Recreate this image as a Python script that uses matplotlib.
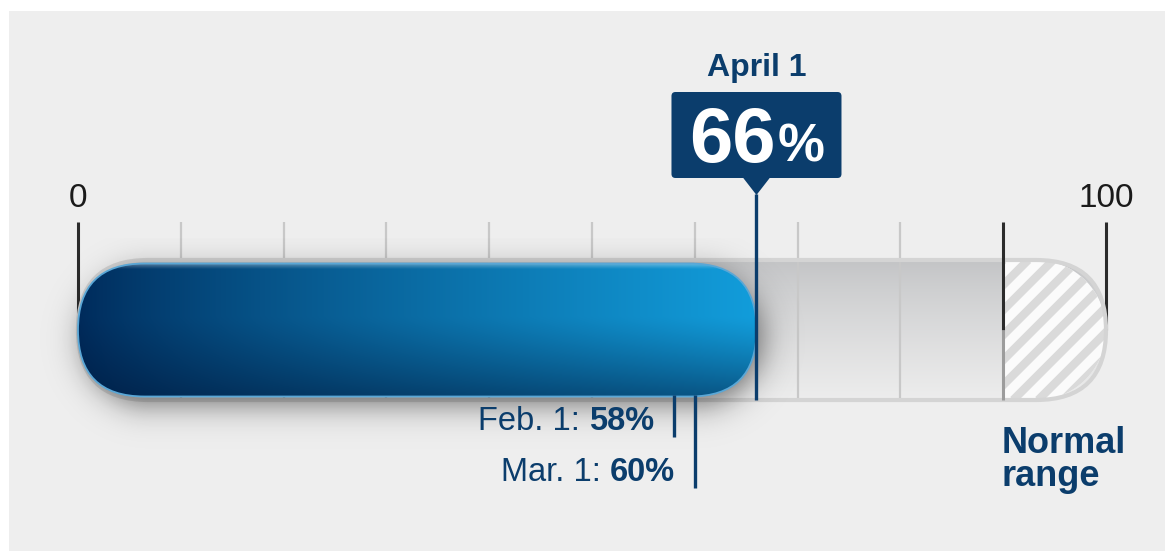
import numpy as np
import matplotlib
matplotlib.use("Agg")
import matplotlib.pyplot as plt
from matplotlib.patches import FancyBboxPatch, Rectangle, Polygon
from matplotlib.colors import to_rgb

# reservoir storage, percent of capacity
current_label = "April 1"
current_value = 66
history_labels = ["Feb. 1:", "Mar. 1:"]
history_values = [58, 60]
scale_min, scale_max = 0, 100
tick_values = list(range(0, 101, 10))
normal_range_start = 90
normal_range_label = "Normal\nrange"

NAVY = "#0b3d6c"
S = 10.28          # pixels per percent
PX = 1 / S         # one pixel in data units

plt.rcParams["font.family"] = ["Liberation Sans", "DejaVu Sans"]

fig = plt.figure(figsize=(11.65, 5.51), dpi=100)
fig.patch.set_facecolor("white")
fig.patches.append(Rectangle((9 / 1165, 0), 1, 1 - 11 / 551, transform=fig.transFigure,
                             facecolor="#eeeeee", edgecolor="none", zorder=-10))
ax = fig.add_axes([0, 0, 1, 1])
ax.set_xlim(-78 * PX, (1165 - 78) * PX)
ax.set_ylim(-(551 - 330) * PX, 330 * PX)
ax.axis("off")

TH = 70 * PX     # track half height
BH = 66.5 * PX   # bar half height


def capsule(x0, x1, h, **kw):
    return FancyBboxPatch((x0, -h), x1 - x0, 2 * h,
                          boxstyle="round,pad=0,rounding_size=%f" % h,
                          transform=ax.transData, **kw)


# track fill (vertical gradient)
track_clip = capsule(scale_min, scale_max, TH, facecolor="none", edgecolor="none")
g = np.linspace(0, 1, 256)[:, None]
top, bot = np.array(to_rgb("#c2c3c5")), np.array(to_rgb("#ededed"))
grad = top + (bot - top) * g[..., None] ** 0.8
grad = np.repeat(grad, 2, axis=1)
im = ax.imshow(grad, extent=(scale_min, scale_max, -TH, TH), aspect="auto", zorder=1.2)
im.set_clip_path(track_clip)

# normal range hatch area
ang = np.linspace(np.pi / 2, -np.pi / 2, 60)
cx = scale_max - TH
pts = [(normal_range_start, TH)] + [(cx + TH * np.cos(a), TH * np.sin(a)) for a in ang] \
      + [(normal_range_start, -TH)]
hatch_area = Polygon(pts, closed=True, facecolor="#fbfbfb", edgecolor="none", zorder=1.5)
ax.add_patch(hatch_area)
for x0 in np.arange(normal_range_start - 2 * TH, scale_max + 2, 25 * PX):
    ln, = ax.plot([x0, x0 + 2 * TH], [-TH, TH], color="#dadada", lw=6, zorder=1.6,
                  solid_capstyle="butt")
    ln.set_clip_path(hatch_area)

# track outline
ax.add_patch(capsule(scale_min, scale_max, TH, facecolor="none", edgecolor="#d4d4d4",
                     lw=3.0, zorder=2.8))

# ticks
tick_top = 108 * PX
for v in tick_values:
    if v in (scale_min, scale_max):
        ax.plot([v, v], [tick_top, 0], color="#2b2b2b", lw=2.2, zorder=1.0,
                solid_capstyle="butt")
    elif v == normal_range_start:
        ax.plot([v, v], [tick_top, 0], color="#2b2b2b", lw=2.2, zorder=2.9,
                solid_capstyle="butt")
        ax.plot([v, v], [0, -TH], color="#9c9c9c", lw=2.2, zorder=2.9,
                solid_capstyle="butt")
    else:
        ax.plot([v, v], [tick_top, -TH], color="#c8c8c8", lw=1.6, zorder=2.5,
                solid_capstyle="butt")

# soft shadow under the bar
xs = np.arange(-4, current_value + 6, 0.1)
ys = np.arange(-14, 9, 0.1)
X, Y = np.meshgrid(xs, ys)
dx, dy = 5 * PX, -9 * PX
a0, a1 = BH + dx, current_value - BH + dx
px_ = np.clip(X, a0, a1)
d = np.hypot(X - px_, Y - dy) - BH
alpha = 0.5 / (1 + np.exp(d / (9 * PX)))
shadow = np.zeros(X.shape + (4,))
shadow[..., 3] = alpha
ax.imshow(shadow, extent=(xs[0], xs[-1], ys[0], ys[-1]), origin="lower",
          aspect="auto", zorder=3)

# the blue bar
cols, rows = 400, 120
t = np.linspace(0, 1, cols)[None, :, None] ** 0.8
v = np.linspace(0, 1, rows)[:, None, None]
left, right = np.array(to_rgb("#002a5a")), np.array(to_rgb("#129ddb"))
deep = np.array(to_rgb("#001436"))
base = left + (right - left) * t
k = 0.5 * np.clip((v - 0.4) / 0.6, 0, 1) ** 1.2
bar_img = base * (1 - k) + deep * k
hl = np.clip(1 - v / 0.04, 0, 1) * 0.35
bar_img = bar_img * (1 - hl) + hl
bar_clip = capsule(scale_min, current_value, BH, facecolor="none", edgecolor="none")
bim = ax.imshow(bar_img, extent=(scale_min, current_value, -BH, BH), aspect="auto", zorder=4)
bim.set_clip_path(bar_clip)
ax.add_patch(capsule(scale_min, current_value, BH, facecolor="none", edgecolor="#5aa7d6",
                     lw=1.3, zorder=4.1))

# callout for the current value
box_bottom, box_top = 152 * PX, 238 * PX
half_w = 85 * PX
ax.add_patch(FancyBboxPatch((current_value - half_w, box_bottom), 2 * half_w,
                            box_top - box_bottom,
                            boxstyle="round,pad=0,rounding_size=%f" % (4 * PX),
                            facecolor=NAVY, edgecolor="none", zorder=5))
tip = 135 * PX
ax.add_patch(Polygon([(current_value - 14 * PX, box_bottom + 0.1),
                      (current_value + 14 * PX, box_bottom + 0.1),
                      (current_value, tip)], closed=True, facecolor=NAVY,
                     edgecolor="none", zorder=5))
ax.plot([current_value, current_value], [tip + 0.1, -TH], color=NAVY, lw=2.4, zorder=5,
        solid_capstyle="butt")
ax.text(current_value, 254 * PX, current_label, ha="center", va="baseline",
        fontsize=23, fontweight="bold", color=NAVY, zorder=6)

num = ax.text(current_value, 168 * PX, "%d" % current_value, ha="left", va="baseline",
              fontsize=56, fontweight="bold", color="white", zorder=6)
pct = ax.text(current_value, 168 * PX, "%", ha="left", va="baseline",
              fontsize=38, fontweight="bold", color="white", zorder=6)
fig.canvas.draw()
r = fig.canvas.get_renderer()
w_num = num.get_window_extent(r).width * PX
w_pct = pct.get_window_extent(r).width * PX
gap = 2 * PX
x_start = current_value - (w_num + gap + w_pct) / 2
num.set_x(x_start)
pct.set_x(x_start + w_num + gap)

# earlier readings
label_baselines = [-107 * PX, -158 * PX]
for lab, val, yb in zip(history_labels, history_values, label_baselines):
    ax.plot([val, val], [-65 * PX, yb], color=NAVY, lw=2.4, zorder=5,
            solid_capstyle="butt")
    bold = ax.text(val - 20 * PX, yb, "%d%%" % val, ha="right", va="bottom",
                   fontsize=23.5, fontweight="bold", color=NAVY, zorder=6)
    ax.annotate(lab + " ", xy=(0, 0), xycoords=bold, ha="right", va="bottom",
                fontsize=23.5, color=NAVY, zorder=6)

# scale end labels
for v in (scale_min, scale_max):
    ax.text(v, 123 * PX, str(v), ha="center", va="baseline", fontsize=24,
            color="#1a1a1a", zorder=6)

ax.text(normal_range_start - 2 * PX, -96 * PX, normal_range_label, ha="left", va="top",
        fontsize=26, fontweight="bold", color=NAVY, linespacing=0.92, zorder=6)

fig.savefig("out.png", dpi=100, facecolor=fig.get_facecolor())
